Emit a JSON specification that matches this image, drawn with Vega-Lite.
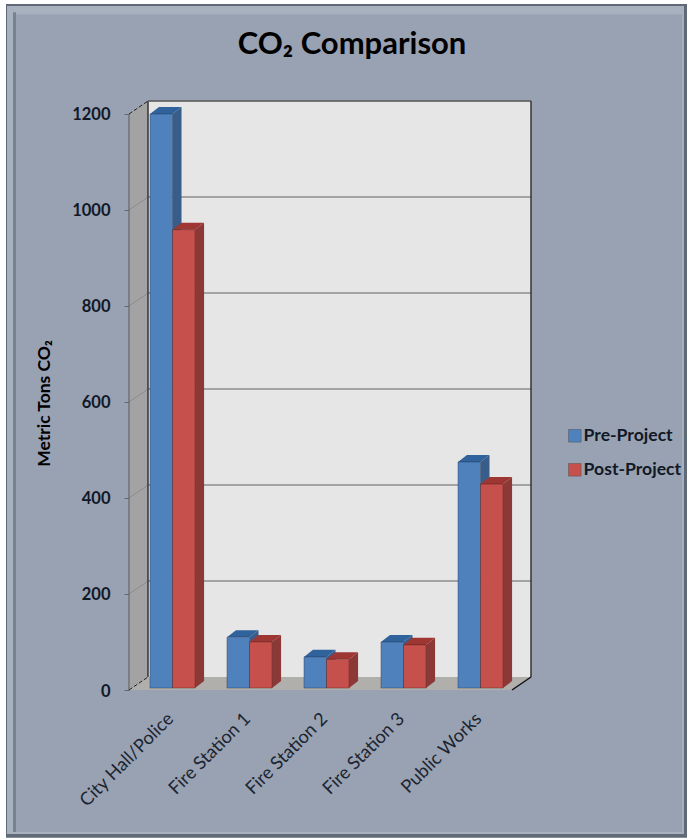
{
"$schema":"https://vega.github.io/schema/vega-lite/v6.json",
"autosize":"none",
"width":402,"height":589,
"padding":{"left":129,"top":101,"right":156,"bottom":148},
"background":"#ffffff",
"title":{"text":"CO₂ Comparison","font":"Lato","fontSize":31,"fontWeight":"bold","color":"#000000","anchor":"middle","frame":"group","dx":22,"offset":-57,"zindex":1},
"data":{"values":[
{"site":"City Hall/Police","series":"Pre-Project","value":1196},
{"site":"City Hall/Police","series":"Post-Project","value":955},
{"site":"Fire Station 1","series":"Pre-Project","value":106},
{"site":"Fire Station 1","series":"Post-Project","value":96},
{"site":"Fire Station 2","series":"Pre-Project","value":65},
{"site":"Fire Station 2","series":"Post-Project","value":60},
{"site":"Fire Station 3","series":"Pre-Project","value":96},
{"site":"Fire Station 3","series":"Post-Project","value":90},
{"site":"Public Works","series":"Pre-Project","value":471},
{"site":"Public Works","series":"Post-Project","value":425}
]},
"transform":[
{"calculate":"indexof(['City Hall/Police','Fire Station 1','Fire Station 2','Fire Station 3','Public Works'],datum.site)+0.5-(datum.series==='Pre-Project'?0.293:0)","as":"x0"},
{"calculate":"datum.x0+0.293","as":"x1"},
{"calculate":"datum.value+4","as":"top"}
],
"layer":[
{"data":{"values":[{}]},"mark":{"type":"rect","color":"#5f6a76"},
 "encoding":{
  "x":{"datum":-1.6623,"type":"quantitative","scale":{"domain":[-0.065,5.1558],"nice":false,"zero":false},
   "axis":{"title":null,"values":[0.5,1.5,2.5,3.5,4.5],"labelExpr":"['City Hall/Police','Fire Station 1','Fire Station 2','Fire Station 3','Public Works'][floor(datum.value)]","labelAngle":-45,"labelAlign":"right","labelBaseline":"middle","labelFont":"Lato","labelFontSize":18.2,"labelFontWeight":"normal","labelColor":"#1c2430","labelPadding":26,"labelOffset":-2,"ticks":false,"domain":false,"grid":false,"zindex":1,"labelOverlap":false}},
  "x2":{"datum":7.1816},
  "y":{"datum":1429.2,"type":"quantitative","scale":{"domain":[0,1227.08],"nice":false,"zero":false},
   "axis":{"title":"Metric Tons CO₂","values":[0,200,400,600,800,1000,1200],"format":"d","labelFont":"Lato","labelFontSize":16.5,"labelFontWeight":"bold","labelColor":"#111826","labelPadding":14,"labelOffset":1,"tickSize":5,"tickColor":"#666666","domain":false,"grid":false,"zindex":1,"titleFont":"Lato","titleFontSize":17.5,"titleFontWeight":"bold","titleColor":"#000000","titleX":-76,"titleY":302,"titleAngle":-90}},
  "y2":{"datum":-308}}},
{"data":{"values":[{}]},"mark":{"type":"rect","color":"#a8b2bf"},
 "encoding":{"x":{"datum":-1.6493},"x2":{"datum":7.1427},"y":{"datum":1425},"y2":{"datum":-300}}},
{"data":{"values":[{}]},"mark":{"type":"rect","color":"#75828f"},
 "encoding":{"x":{"datum":-1.5714},"x2":{"datum":-1.5325},"y":{"datum":1412},"y2":{"datum":-296}}},
{"data":{"values":[{}]},"mark":{"type":"rect","color":"#98a2b3"},
 "encoding":{"x":{"datum":-1.5325},"x2":{"datum":7.1167},"y":{"datum":1408},"y2":{"datum":-296}}},

{"data":{"values":[{}]},"mark":{"type":"rect","color":"#e6e6e6"},
 "encoding":{"x":{"datum":0.1818},"x2":{"datum":5.1558},"y":{"datum":27.08},"y2":{"datum":1227.08}}},
{"data":{"values":[{"wall":"side"}]},
 "transform":[{"calculate":"[-0.065,0.1818]","as":"wx"},{"calculate":"[1200,1227.08]","as":"wa"},{"calculate":"[0,27.08]","as":"wb"},{"flatten":["wx","wa","wb"]}],
 "mark":{"type":"area","orient":"vertical","color":"#a3a3a3"},
 "encoding":{"x":{"field":"wx","type":"quantitative"},"y":{"field":"wa","type":"quantitative"},"y2":{"field":"wb"}}},
{"data":{"values":[{"wall":"floor"}]},
 "transform":[{"calculate":"[-0.065,0.1818,4.909,5.1558]","as":"wx"},{"calculate":"[0,27.08,27.08,27.08]","as":"wa"},{"calculate":"[0,0,0,27.08]","as":"wb"},{"flatten":["wx","wa","wb"]}],
 "mark":{"type":"area","orient":"vertical","color":"#b0afab"},
 "encoding":{"x":{"field":"wx","type":"quantitative"},"y":{"field":"wa","type":"quantitative"},"y2":{"field":"wb"}}},

{"data":{"values":[{"tick":200},{"tick":400},{"tick":600},{"tick":800},{"tick":1000}]},
 "transform":[{"calculate":"datum.tick+27.08","as":"back"}],
 "mark":{"type":"rule","color":"#8c8c8c","strokeWidth":1.6},
 "encoding":{"x":{"datum":0.1818},"x2":{"datum":5.1558},"y":{"field":"back","type":"quantitative"}}},
{"data":{"values":[{"tick":200},{"tick":400},{"tick":600},{"tick":800},{"tick":1000}]},
 "transform":[{"calculate":"datum.tick+27.08","as":"back"}],
 "mark":{"type":"rule","color":"#8c8c8c","strokeWidth":1},
 "encoding":{"x":{"datum":-0.065},"x2":{"datum":0.1818},"y":{"field":"tick","type":"quantitative"},"y2":{"field":"back"}}},

{"data":{"values":[{}]},"mark":{"type":"rule","color":"#333333","strokeWidth":1.5},
 "encoding":{"x":{"datum":0.1818},"y":{"datum":27.08},"y2":{"datum":1227.08}}},
{"data":{"values":[{}]},"mark":{"type":"rule","color":"#555555","strokeWidth":1.5},
 "encoding":{"x":{"datum":0.1818},"x2":{"datum":5.1558},"y":{"datum":1227.08}}},
{"data":{"values":[{}]},"mark":{"type":"rule","color":"#333333","strokeWidth":1.5},
 "encoding":{"x":{"datum":5.1558},"y":{"datum":27.08},"y2":{"datum":1227.08}}},
{"data":{"values":[{}]},"mark":{"type":"rule","color":"#111111","strokeWidth":1.5},
 "encoding":{"x":{"datum":4.909},"x2":{"datum":5.1558},"y":{"datum":0},"y2":{"datum":27.08}}},
{"data":{"values":[{}]},"mark":{"type":"rule","color":"#666666","strokeWidth":1.2},
 "encoding":{"x":{"datum":-0.065},"y":{"datum":0},"y2":{"datum":1200}}},
{"data":{"values":[{}]},"mark":{"type":"rule","color":"#222222","strokeWidth":1,"strokeDash":[4,2]},
 "encoding":{"x":{"datum":-0.065},"x2":{"datum":0.1818},"y":{"datum":1200},"y2":{"datum":1227.08}}},
{"data":{"values":[{}]},"mark":{"type":"rule","color":"#222222","strokeWidth":1,"strokeDash":[4,2]},
 "encoding":{"x":{"datum":-0.065},"x2":{"datum":0.1818},"y":{"datum":0},"y2":{"datum":27.08}}},

{"transform":[{"filter":"datum.series==='Pre-Project'"},
  {"calculate":"[datum.x1,datum.x1+0.117]","as":"fx"},{"calculate":"[datum.top,datum.top+14.6]","as":"fa"},{"calculate":"[4,18.6]","as":"fb"},{"flatten":["fx","fa","fb"]}],
 "mark":{"type":"area","orient":"vertical","color":"#385d8a"},
 "encoding":{"x":{"field":"fx","type":"quantitative"},"y":{"field":"fa","type":"quantitative"},"y2":{"field":"fb"},"detail":{"field":"site"}}},
{"transform":[{"filter":"datum.series==='Pre-Project'"},
  {"calculate":"[datum.x0,datum.x0+0.117,datum.x1,datum.x1+0.117]","as":"fx"},{"calculate":"[datum.top,datum.top+14.6,datum.top+14.6,datum.top+14.6]","as":"fa"},{"calculate":"[datum.top,datum.top,datum.top,datum.top+14.6]","as":"fb"},{"flatten":["fx","fa","fb"]}],
 "mark":{"type":"area","orient":"vertical","color":"#30629b"},
 "encoding":{"x":{"field":"fx","type":"quantitative"},"y":{"field":"fa","type":"quantitative"},"y2":{"field":"fb"},"detail":{"field":"site"}}},
{"transform":[{"filter":"datum.series==='Post-Project'"},
  {"calculate":"[datum.x1,datum.x1+0.117]","as":"fx"},{"calculate":"[datum.top,datum.top+14.6]","as":"fa"},{"calculate":"[4,18.6]","as":"fb"},{"flatten":["fx","fa","fb"]}],
 "mark":{"type":"area","orient":"vertical","color":"#8c3836"},
 "encoding":{"x":{"field":"fx","type":"quantitative"},"y":{"field":"fa","type":"quantitative"},"y2":{"field":"fb"},"detail":{"field":"site"}}},
{"transform":[{"filter":"datum.series==='Post-Project'"},
  {"calculate":"[datum.x0,datum.x0+0.117,datum.x1,datum.x1+0.117]","as":"fx"},{"calculate":"[datum.top,datum.top+14.6,datum.top+14.6,datum.top+14.6]","as":"fa"},{"calculate":"[datum.top,datum.top,datum.top,datum.top+14.6]","as":"fb"},{"flatten":["fx","fa","fb"]}],
 "mark":{"type":"area","orient":"vertical","color":"#9e3633"},
 "encoding":{"x":{"field":"fx","type":"quantitative"},"y":{"field":"fa","type":"quantitative"},"y2":{"field":"fb"},"detail":{"field":"site"}}},

{"mark":{"type":"rect","stroke":"#000000","strokeOpacity":0.25,"strokeWidth":1},
 "encoding":{
  "x":{"field":"x0","type":"quantitative"},"x2":{"field":"x1"},
  "y":{"field":"top","type":"quantitative"},"y2":{"datum":4},
  "color":{"field":"series","type":"nominal","scale":{"domain":["Pre-Project","Post-Project"],"range":["#4f81bd","#c6504c"]},
   "legend":{"title":null,"orient":"none","legendX":437,"legendY":326,"symbolType":"square","symbolSize":160,"symbolStrokeColor":"#555555","symbolStrokeWidth":0.5,"symbolOpacity":1,"labelFont":"Lato","labelFontSize":17.6,"labelFontWeight":"bold","labelColor":"#111826","rowPadding":15,"labelOffset":0,"zindex":1}}}}
],
"config":{"view":{"stroke":null}}
}
